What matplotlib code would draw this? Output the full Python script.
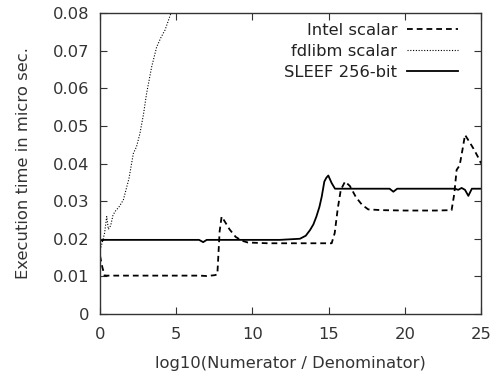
import numpy as np
import matplotlib
matplotlib.use("Agg")
import matplotlib.pyplot as plt

# values
intel_x = [0.0, 0.15, 0.3, 1.0, 3.0, 5.0, 6.5, 7.0, 7.5, 7.7, 7.85, 7.98, 8.2, 8.5, 8.9, 9.3, 9.7,
           11.0, 13.0, 14.5, 15.2, 15.4, 15.6, 15.8, 16.08, 16.4, 16.8, 17.2, 17.6, 18.5,
           20.0, 22.0, 23.07, 23.25, 23.4, 23.6, 23.8, 23.95, 24.2, 24.5, 24.9, 25.0]
intel_y = [0.0155, 0.0125, 0.0102, 0.0102, 0.0102, 0.0102, 0.0102, 0.0101, 0.0103, 0.0105, 0.022, 0.0259,
           0.0245, 0.0225, 0.0205, 0.0195, 0.019,
           0.0188, 0.0188, 0.0188, 0.0188, 0.0215, 0.028, 0.033, 0.0352, 0.034, 0.031, 0.029, 0.0278, 0.0276,
           0.0275, 0.0275, 0.0276, 0.032, 0.0383, 0.0395, 0.044, 0.0476, 0.046, 0.044, 0.041, 0.040]

fdlibm_x = [0.0, 0.15, 0.3, 0.44, 0.55, 0.7, 0.85, 0.98, 1.25, 1.53, 1.9, 2.19, 2.4, 2.62, 2.85,
            3.06, 3.39, 3.72, 4.0, 4.27, 4.66, 4.9]
fdlibm_y = [0.017, 0.019, 0.0215, 0.0259, 0.0225, 0.0235, 0.0262, 0.0272, 0.0285, 0.0303, 0.036, 0.0427,
            0.0445, 0.048, 0.053, 0.0587, 0.0657, 0.071, 0.0735, 0.0755, 0.080, 0.083]

sleef_x = [0.0, 0.3, 2.0, 4.0, 6.5, 6.77, 7.0, 9.0, 11.8, 13.12, 13.5, 13.78, 14.0, 14.2, 14.4,
           14.55, 14.72, 14.85, 14.98, 15.2, 15.42, 17.0, 19.0, 19.25, 19.5, 21.0, 23.3, 23.5,
           23.73, 23.95, 24.17, 24.4, 24.6, 25.0]
sleef_y = [0.0195, 0.0197, 0.0197, 0.0197, 0.0197, 0.0191, 0.0197, 0.0197, 0.0197, 0.0200, 0.0208, 0.0223,
           0.0238, 0.0259, 0.0285, 0.0312, 0.0352, 0.0362, 0.0368, 0.0348, 0.0333, 0.0333, 0.0333, 0.0325,
           0.0333, 0.0333, 0.0333, 0.0330, 0.0335, 0.0330, 0.0314, 0.0333, 0.0333, 0.0333]

xticks = [0, 5, 10, 15, 20, 25]
yticks = [0, 0.01, 0.02, 0.03, 0.04, 0.05, 0.06, 0.07, 0.08]

plt.rcParams['font.family'] = 'DejaVu Sans'
txt = '#333333'
fs = 11.8

fig = plt.figure(figsize=(4.93, 3.76), dpi=100)
ax = fig.add_axes([100 / 493, 62 / 376, 381 / 493, 301 / 376])

ax.plot(intel_x, intel_y, color='black', linestyle=(0, (3.2, 2.2)), linewidth=1.3, label='Intel scalar')
ax.plot(fdlibm_x, fdlibm_y, color='black', linestyle=(0, (1, 1.5)), linewidth=0.8, label='fdlibm scalar')
ax.plot(sleef_x, sleef_y, color='black', linestyle='-', linewidth=1.3, label='SLEEF 256-bit')

ax.set_xlim(0, 25)
ax.set_ylim(0, 0.08)
ax.set_xticks(xticks)
ax.set_yticks(yticks)
ax.set_yticklabels(['0' if v == 0 else f'{v:g}' for v in yticks])
ax.tick_params(direction='in', top=True, right=True, length=5, width=0.8,
               labelsize=fs, labelcolor=txt, color='#333333')
ax.tick_params(axis='y', pad=7.5)
ax.tick_params(axis='x', pad=9.5)
for s in ax.spines.values():
    s.set_color('#333333')
    s.set_linewidth(1.0)

ax.set_xlabel('log10(Numerator / Denominator)', fontsize=fs, color=txt, labelpad=10)
ax.set_ylabel('Execution time in micro sec.', fontsize=fs, color=txt, labelpad=15.5)

leg = ax.legend(loc='upper right', bbox_to_anchor=(0.9567, 0.988), frameon=False,
                markerfirst=False, fontsize=fs, handlelength=3.1, borderaxespad=0.0,
                labelspacing=0.35, handletextpad=0.6)
for t in leg.get_texts():
    t.set_color('#222222')

fig.savefig('out.png', dpi=100)
